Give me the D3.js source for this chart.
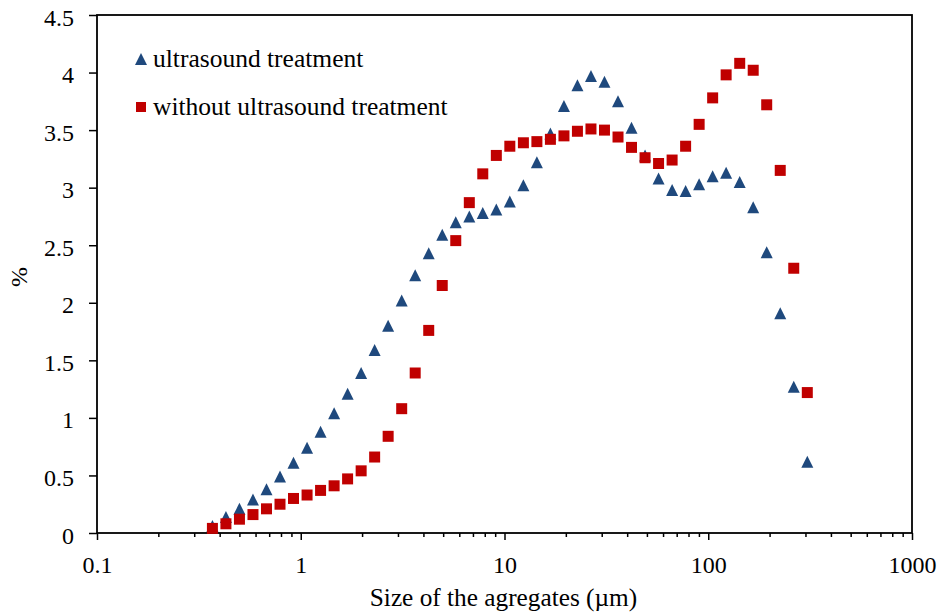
<!DOCTYPE html>
<html>
<head>
<meta charset="utf-8">
<script src="https://cdn.jsdelivr.net/npm/d3@7"></script>
<style>
  html, body { margin: 0; padding: 0; background: #fff; }
  svg { display: block; }
  text { font-family: "Liberation Serif", "Times New Roman", serif; fill: #000; }
</style>
</head>
<body>
<svg id="chart" width="942" height="615"></svg>
<script>
// Aggregate size classes (µm)
const sizes = [0.3685, 0.4293, 0.5002, 0.5828, 0.6789, 0.7910, 0.9216, 1.074, 1.251, 1.458,
  1.698, 1.979, 2.305, 2.685, 3.129, 3.645, 4.247, 4.948, 5.765, 6.719,
  7.823, 9.118, 10.62, 12.38, 14.42, 16.80, 19.58, 22.80, 26.57, 30.95,
  36.07, 42.02, 48.96, 57.04, 66.47, 77.43, 90.22, 105.1, 122.4, 142.7,
  166.2, 193.6, 225.6, 262.8, 306.3];

// Volume fraction (%) per size class
const withUltrasound = [0.06, 0.14, 0.21, 0.29, 0.38, 0.49, 0.61, 0.74, 0.88, 1.04,
  1.21, 1.39, 1.59, 1.80, 2.02, 2.24, 2.43, 2.59, 2.70, 2.75,
  2.78, 2.81, 2.88, 3.02, 3.22, 3.47, 3.71, 3.89, 3.97, 3.92,
  3.75, 3.52, 3.28, 3.08, 2.98, 2.97, 3.03, 3.10, 3.13, 3.05,
  2.83, 2.44, 1.91, 1.27, 0.62];

const withoutUltrasound = [0.04, 0.08, 0.12, 0.16, 0.21, 0.25, 0.30, 0.33, 0.37, 0.41,
  0.47, 0.54, 0.66, 0.84, 1.08, 1.39, 1.76, 2.15, 2.54, 2.87,
  3.12, 3.28, 3.36, 3.39, 3.40, 3.42, 3.45, 3.49, 3.51, 3.50,
  3.44, 3.35, 3.26, 3.21, 3.24, 3.36, 3.55, 3.78, 3.98, 4.08,
  4.02, 3.72, 3.15, 2.30, 1.22];

const xMajorTicks = [0.1, 1, 10, 100, 1000];
const xTickLabels = ["0.1", "1", "10", "100", "1000"];
const yTicks = [0, 0.5, 1, 1.5, 2, 2.5, 3, 3.5, 4, 4.5];
const yTickLabels = ["0", "0.5", "1", "1.5", "2", "2.5", "3", "3.5", "4", "4.5"];

const seriesNames = ["ultrasound treatment", "without ultrasound treatment"];
const xTitle = "Size of the agregates (\u00b5m)";
const yTitle = "%";

const BLUE = "#1F497D";
const RED = "#C00000";

const svg = d3.select("#chart");
const plot = { left: 97, right: 912, top: 15, bottom: 533 };

const x = d3.scaleLog().domain([0.1, 1000]).range([plot.left, plot.right]);
const y = d3.scaleLinear().domain([0, 4.5]).range([plot.bottom, plot.top]);

// minor ticks 2..9 in each decade
const xMinorTicks = [];
[0.1, 1, 10, 100].forEach(d => {
  for (let k = 2; k <= 9; k++) xMinorTicks.push(d * k);
});

// Minor x ticks
svg.append("g")
  .attr("transform", `translate(0,${plot.bottom})`)
  .call(d3.axisBottom(x).tickValues(xMinorTicks).tickSize(4).tickFormat(""))
  .call(g => g.select(".domain").remove())
  .call(g => g.selectAll("line").attr("stroke", "#000").attr("stroke-width", 1.5));

// Major x ticks with labels
svg.append("g")
  .attr("transform", `translate(0,${plot.bottom})`)
  .call(d3.axisBottom(x).tickValues(xMajorTicks).tickSize(7)
    .tickFormat((d, i) => xTickLabels[i]))
  .call(g => g.select(".domain").remove())
  .call(g => g.selectAll("line").attr("stroke", "#000").attr("stroke-width", 1.5))
  .call(g => g.selectAll("text")
    .attr("y", 40).attr("dy", null)
    .style("font-size", "24px")
    .style("font-family", "'Liberation Serif', 'Times New Roman', serif")
    .attr("fill", "#000"));

// Y axis ticks with labels
svg.append("g")
  .attr("transform", `translate(${plot.left},0)`)
  .call(d3.axisLeft(y).tickValues(yTicks).tickSize(8)
    .tickFormat((d, i) => yTickLabels[i]))
  .call(g => g.select(".domain").remove())
  .call(g => g.selectAll("line").attr("stroke", "#000").attr("stroke-width", 1.5))
  .call(g => g.selectAll("text")
    .attr("x", -23).attr("dy", "0.42em")
    .style("font-size", "24px")
    .style("font-family", "'Liberation Serif', 'Times New Roman', serif")
    .attr("fill", "#000"));

// Plot area frame
svg.append("rect")
  .attr("x", plot.left).attr("y", plot.top)
  .attr("width", plot.right - plot.left).attr("height", plot.bottom - plot.top)
  .attr("fill", "none").attr("stroke", "#000").attr("stroke-width", 1.8);

// Marker shapes (centred on their bounding box)
const triPath = "M0,-6L6,6L-6,6Z";
const sqPath = "M-5.5,-5.5H5.5V5.5H-5.5Z";

const pts = sizes.map((s, i) => ({ s, a: withUltrasound[i], b: withoutUltrasound[i] }));

svg.append("g").selectAll("path")
  .data(pts).join("path")
  .attr("d", triPath)
  .attr("transform", d => `translate(${x(d.s)},${y(d.a)})`)
  .attr("fill", BLUE);

svg.append("g").selectAll("path")
  .data(pts).join("path")
  .attr("d", sqPath)
  .attr("transform", d => `translate(${x(d.s)},${y(d.b)})`)
  .attr("fill", RED);

// Legend
const legend = svg.append("g");
legend.append("path").attr("d", triPath)
  .attr("transform", "translate(141,59)").attr("fill", BLUE);
legend.append("text").attr("x", 153).attr("y", 66.5)
  .style("font-size", "25.5px").text(seriesNames[0]);
legend.append("path").attr("d", "M-5,-5H5V5H-5Z")
  .attr("transform", "translate(141,107)").attr("fill", RED);
legend.append("text").attr("x", 153).attr("y", 115)
  .style("font-size", "25.5px").text(seriesNames[1]);

// Axis titles
svg.append("text")
  .attr("x", (plot.left + plot.right) / 2 - 1).attr("y", 606)
  .attr("text-anchor", "middle")
  .style("font-size", "25.3px")
  .text(xTitle);

svg.append("text")
  .attr("transform", "translate(27,277) rotate(-90)")
  .attr("text-anchor", "middle")
  .style("font-size", "24px")
  .text(yTitle);
</script>
</body>
</html>
